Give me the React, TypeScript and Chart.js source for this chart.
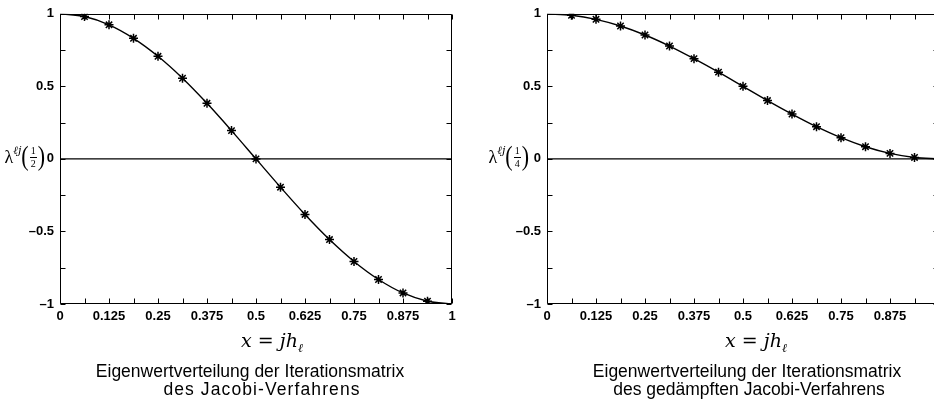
import React, { useEffect, useRef } from 'react';
import { Chart, registerables } from 'chart.js';

Chart.register(...registerables);

// x = j * h_l, h_l = 1/16
const xValues = [0, 0.0625, 0.125, 0.1875, 0.25, 0.3125, 0.375, 0.4375, 0.5, 0.5625, 0.625, 0.6875, 0.75, 0.8125, 0.875, 0.9375, 1];
const jacobiValues = [1, 0.981, 0.924, 0.831, 0.707, 0.556, 0.383, 0.195, 0, -0.195, -0.383, -0.556, -0.707, -0.831, -0.924, -0.981, -1];
const dampedValues = [1, 0.99, 0.962, 0.916, 0.854, 0.778, 0.691, 0.598, 0.5, 0.402, 0.309, 0.222, 0.146, 0.084, 0.038, 0.01, 0];
const zeroLineX = [0, 1];
const zeroLineY = [0, 0];
const xTickLabels = ['0', '0.125', '0.25', '0.375', '0.5', '0.625', '0.75', '0.875', '1'];
const yTickLabels = ['\u20131', '\u20130.5', '0', '0.5', '1'];
const xMinorStep = 0.0625;
const yMinorStep = 0.25;

const tickFont = { family: '"Liberation Sans Narrow", "Arial Narrow", "Liberation Sans", Arial, sans-serif', size: 13, weight: 'bold' };

const framePlugin = {
  id: 'frameTicks',
  afterDraw(chart: any) {
    const { ctx, chartArea: a, scales } = chart;
    const xs = scales.x;
    const ys = scales.y;
    ctx.save();
    ctx.strokeStyle = '#000';
    ctx.lineWidth = 1;
    const L = Math.round(a.left) + 0.5;
    const R = Math.round(a.right) - 0.5;
    const T = Math.round(a.top) + 0.5;
    const B = Math.round(a.bottom) - 0.5;
    ctx.beginPath();
    ctx.rect(L, T, R - L, B - T);
    const tl = 5;
    for (let v = 0; v <= 1.0001; v += xMinorStep) {
      const px = Math.round(xs.getPixelForValue(v)) + 0.5;
      ctx.moveTo(px, T);
      ctx.lineTo(px, T + tl);
      ctx.moveTo(px, B);
      ctx.lineTo(px, B - tl);
    }
    for (let v = -1; v <= 1.0001; v += yMinorStep) {
      const py = Math.round(ys.getPixelForValue(v)) + 0.5;
      ctx.moveTo(L, py);
      ctx.lineTo(L + tl, py);
      ctx.moveTo(R, py);
      ctx.lineTo(R - tl, py);
    }
    ctx.stroke();
    ctx.restore();
  },
};

function makeChart(canvas: HTMLCanvasElement, values: number[], yAxisWidth: number, padRight: number) {
  const last = values.length - 1;
  return new Chart(canvas, {
    type: 'line',
    data: {
      datasets: [
        {
          data: zeroLineX.map((x, i) => ({ x, y: zeroLineY[i] })),
          borderColor: '#000',
          borderWidth: 1.3,
          pointRadius: 0,
          fill: false,
        },
        {
          data: xValues.map((x, i) => ({ x, y: values[i] })),
          borderColor: '#000',
          borderWidth: 1.4,
          cubicInterpolationMode: 'monotone',
          fill: false,
          pointStyle: 'star',
          pointRadius: (c: any) => (c.dataIndex === 0 || c.dataIndex === last ? 0 : 4.5),
          pointBorderColor: '#000',
          pointBackgroundColor: '#000',
          pointBorderWidth: 1.5,
        },
      ],
    } as any,
    options: {
      responsive: false,
      animation: false,
      layout: { padding: { top: 9, right: padRight, left: 0, bottom: 0 } },
      plugins: { legend: { display: false }, tooltip: { enabled: false }, title: { display: false } },
      scales: {
        x: {
          type: 'linear',
          min: 0,
          max: 1,
          grid: { display: false, drawTicks: false },
          border: { display: false },
          ticks: {
            stepSize: 0.125,
            padding: 5,
            color: '#000',
            autoSkip: false,
            maxRotation: 0,
            font: tickFont,
            callback: (_v: any, i: number) => xTickLabels[i],
          },
          afterFit: (s: any) => {
            s.height = 101;
          },
        },
        y: {
          type: 'linear',
          min: -1,
          max: 1,
          grid: { display: false, drawTicks: false },
          border: { display: false },
          ticks: {
            stepSize: 0.5,
            padding: 6,
            color: '#000',
            font: tickFont,
            callback: (_v: any, i: number) => yTickLabels[i],
          },
          afterFit: (s: any) => {
            s.width = yAxisWidth;
          },
        },
      },
    } as any,
    plugins: [framePlugin],
  });
}

const serif = '"DejaVu Serif", "Liberation Serif", serif';

function YLabel({ right, frac }: { right: number; frac: string }) {
  return (
    <div
      style={{
        position: 'absolute',
        left: right - 60,
        width: 60,
        top: 140,
        height: 34,
        display: 'flex',
        justifyContent: 'flex-end',
        alignItems: 'center',
        fontFamily: '"Liberation Serif", serif',
        color: '#000',
        whiteSpace: 'nowrap',
      }}
    >
      <span style={{ fontSize: 18 }}>λ</span>
      <span style={{ fontSize: 11, fontStyle: 'italic', position: 'relative', top: -7, fontFamily: serif }}>ℓj</span>
      <span style={{ fontSize: 22, display: 'inline-block', transform: 'scaleY(1.2)', lineHeight: 1 }}>(</span>
      <span style={{ display: 'inline-flex', flexDirection: 'column', alignItems: 'center', fontSize: 10, lineHeight: 1, margin: '0 1px' }}>
        <span style={{ borderBottom: '1px solid #000', padding: '0 1px 1px' }}>1</span>
        <span style={{ paddingTop: 1 }}>{frac}</span>
      </span>
      <span style={{ fontSize: 22, display: 'inline-block', transform: 'scaleY(1.2)', lineHeight: 1 }}>)</span>
    </div>
  );
}

function XTitle({ cx }: { cx: number }) {
  return (
    <div
      style={{
        position: 'absolute',
        left: cx - 80,
        width: 160,
        top: 329,
        textAlign: 'center',
        fontFamily: serif,
        fontSize: 19,
        lineHeight: '22px',
        color: '#000',
        whiteSpace: 'nowrap',
      }}
    >
      <i>x</i>
      <span style={{ margin: '0 6px' }}>=</span>
      <i>jh</i>
      <sub style={{ fontSize: 12, fontStyle: 'italic' }}>ℓ</sub>
    </div>
  );
}

function Caption({ cx, top, text, spacing }: { cx: number; top: number; text: string; spacing?: number }) {
  return (
    <div
      style={{
        position: 'absolute',
        left: cx - 220,
        width: 440,
        top,
        textAlign: 'center',
        fontFamily: '"Liberation Sans", Arial, sans-serif',
        fontSize: 17.5,
        lineHeight: '19px',
        letterSpacing: spacing ? spacing : 0,
        color: '#000',
        whiteSpace: 'nowrap',
      }}
    >
      {text}
    </div>
  );
}

export default function App() {
  const leftRef = useRef<HTMLCanvasElement>(null);
  const rightRef = useRef<HTMLCanvasElement>(null);

  useEffect(() => {
    const c1 = makeChart(leftRef.current!, jacobiValues, 60, 15);
    const c2 = makeChart(rightRef.current!, dampedValues, 80, 15);
    return () => {
      c1.destroy();
      c2.destroy();
    };
  }, []);

  return (
    <div
      style={{
        position: 'fixed',
        left: 0,
        top: 0,
        width: 934,
        height: 405,
        overflow: 'hidden',
        background: '#fff',
      }}
    >
      <canvas ref={leftRef} width={467} height={405} style={{ position: 'absolute', left: 0, top: 0, width: 467, height: 405 }} />
      <canvas ref={rightRef} width={487} height={405} style={{ position: 'absolute', left: 467, top: 0, width: 487, height: 405 }} />
      <YLabel right={45} frac="2" />
      <YLabel right={529} frac="4" />
      <XTitle cx={272} />
      <XTitle cx={756} />
      <Caption cx={250} top={362} text="Eigenwertverteilung der Iterationsmatrix" />
      <Caption cx={262} top={380} text="des Jacobi-Verfahrens" spacing={1.1} />
      <Caption cx={747} top={362} text="Eigenwertverteilung der Iterationsmatrix" />
      <Caption cx={749} top={380} text="des gedämpften Jacobi-Verfahrens" />
    </div>
  );
}
